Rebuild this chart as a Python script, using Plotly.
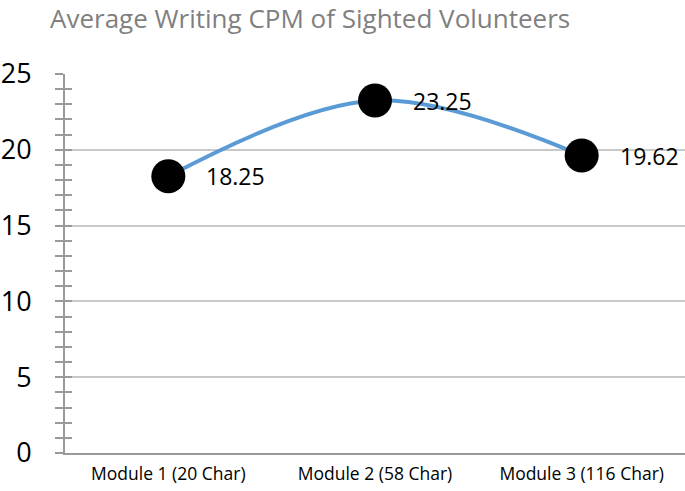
import plotly.graph_objects as go

categories = ["Module 1 (20 Char)", "Module 2 (58 Char)", "Module 3 (116 Char)"]
cpm = [18.25, 23.25, 19.62]
labels = ["18.25", "23.25", "19.62"]

font = "Open Sans, Lato, sans-serif"
axis_grey = "#9a9a9a"
grid_grey = "#c8c8c8"

fig = go.Figure()
fig.add_trace(
    go.Scatter(
        x=categories,
        y=cpm,
        mode="lines+markers",
        line=dict(color="#5b9bd5", width=4, shape="spline", smoothing=1),
        marker=dict(color="black", size=34),
        hoverinfo="skip",
    )
)
# invisible trace so the overlay axis (inside ticks) is drawn
fig.add_trace(
    go.Scatter(x=categories, y=cpm, yaxis="y2", mode="none", showlegend=False, hoverinfo="skip")
)

for c, v, t in zip(categories, cpm, labels):
    fig.add_annotation(
        x=c, y=v, text=t, showarrow=False, xanchor="left", yanchor="middle",
        xshift=36, font=dict(family=font, size=23, color="black"),
    )

fig.update_layout(
    width=685,
    height=491,
    margin=dict(l=65, r=0, t=74, b=38, autoexpand=False),
    paper_bgcolor="white",
    plot_bgcolor="white",
    showlegend=False,
    title=dict(
        text="Average Writing CPM of Sighted Volunteers",
        x=50 / 685, xanchor="left", y=1 - 19 / 491, yanchor="middle",
        font=dict(family=font, size=26, color="#7f7f7f"),
        automargin=False,
    ),
    xaxis=dict(
        type="category",
        range=[-0.5, 2.5],
        showgrid=False,
        showline=True,
        linecolor=axis_grey,
        linewidth=2,
        ticks="",
        ticklabelstandoff=4,
        tickfont=dict(family=font, size=17.5, color="black"),
        automargin=False,
        fixedrange=True,
    ),
    yaxis=dict(
        range=[0, 25],
        dtick=5,
        showgrid=True,
        gridcolor=grid_grey,
        gridwidth=1.5,
        zeroline=False,
        showline=True,
        linecolor=axis_grey,
        linewidth=2,
        ticks="outside",
        ticklen=8,
        tickwidth=1.5,
        tickcolor=axis_grey,
        minor=dict(dtick=1, ticks="outside", ticklen=8, tickwidth=1.5, tickcolor=axis_grey, showgrid=False),
        ticklabelstandoff=18,
        tickfont=dict(family=font, size=27, color="black"),
        automargin=False,
        fixedrange=True,
    ),
    yaxis2=dict(
        overlaying="y",
        side="left",
        range=[0, 25],
        dtick=1,
        showgrid=False,
        zeroline=False,
        showticklabels=False,
        ticks="inside",
        ticklen=7,
        tickwidth=1.5,
        tickcolor=axis_grey,
        automargin=False,
        fixedrange=True,
    ),
)

# drop the browser's default body margin so the figure sits at the page corner
fig.write_html(
    "out.html",
    config={"displayModeBar": False},
    post_script="document.body.style.margin='0';",
)
